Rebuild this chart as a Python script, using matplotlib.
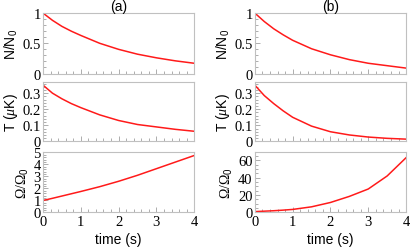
import numpy as np
import matplotlib.pyplot as plt
from matplotlib.ticker import MultipleLocator

# donnees
t = [0, 0.25, 0.5, 0.75, 1, 1.5, 2, 2.5, 3, 3.5, 4]

n_a = [1.0, 0.88, 0.78, 0.70, 0.63, 0.50, 0.40, 0.32, 0.26, 0.21, 0.17]
temp_a = [0.35, 0.30, 0.265, 0.235, 0.21, 0.165, 0.13, 0.105, 0.09, 0.075, 0.063]
omega_a = [1.0, 1.18, 1.37, 1.56, 1.75, 2.15, 2.6, 3.1, 3.65, 4.2, 4.75]

n_b = [1.0, 0.86, 0.74, 0.64, 0.55, 0.41, 0.31, 0.23, 0.17, 0.13, 0.09]
temp_b = [0.35, 0.285, 0.235, 0.19, 0.15, 0.095, 0.06, 0.04, 0.027, 0.019, 0.014]
omega_b = [1.0, 1.5, 2.0, 2.7, 3.5, 6.5, 11.5, 18.5, 27.0, 42.0, 63.0]

plt.rcParams['font.family'] = 'Liberation Serif'
plt.rcParams['mathtext.fontset'] = 'custom'
plt.rcParams['mathtext.rm'] = 'Liberation Sans'
plt.rcParams['mathtext.it'] = 'Liberation Serif:italic'

frame_col = '#c0c0c0'
sans = 'Liberation Sans'

fig = plt.figure(figsize=(4.11, 2.51), dpi=100)

lefts = [0.1046, 0.620]
width = 0.368
rows = [(0.703, 0.241), (0.4327, 0.237), (0.1495, 0.239)]

columns = [
    ('(a)', n_a, temp_a, omega_a, 5.0, 1, 0.2),
    ('(b)', n_b, temp_b, omega_b, 69.0, 20, 5),
]

for col, (title, n, temp, omega, omax, omaj, omin) in enumerate(columns):
    panels = [
        (n, 1.0, [0, 0.5, 1], ['0', '0.5', '1'], 0.1, r'N/N$_{\rm 0}$', sans),
        (temp, 0.37, [0, 0.1, 0.2, 0.3], ['0', '0.1', '0.2', '0.3'], 0.02,
         r'T ($\mu$K)', sans),
        (omega, omax, None, None, omin, r'Ω/Ω$_{\rm 0}$', 'Liberation Serif'),
    ]
    for row, (y, ymax, yt, ytl, ymin, lab, lab_font) in enumerate(panels):
        b, h = rows[row]
        ax = fig.add_axes([lefts[col], b, width, h])
        ax.plot(t, y, color='#ff1a1a', lw=1.1)
        ax.set_xlim(0, 4)
        ax.set_ylim(0, ymax)
        ax.xaxis.set_major_locator(MultipleLocator(1))
        ax.xaxis.set_minor_locator(MultipleLocator(0.2))
        if yt is None:
            ax.yaxis.set_major_locator(MultipleLocator(omaj))
        else:
            ax.set_yticks(yt, ytl)
        ax.yaxis.set_minor_locator(MultipleLocator(ymin))
        for s in ax.spines.values():
            s.set_color(frame_col)
            s.set_linewidth(0.8)
        ax.tick_params(which='both', direction='in', color='#a0a0a0', width=0.6,
                       labelsize=10.5, pad=1.5)
        ax.tick_params(which='major', length=3.5)
        ax.tick_params(which='minor', length=2)
        if row < 2:
            ax.tick_params(labelbottom=False)
        else:
            ax.set_xlabel('time (s)', fontfamily=sans, fontsize=10, labelpad=3)
        if row == 0:
            ax.set_title(title, fontfamily=sans, fontsize=10, pad=2)
        ax.set_ylabel(lab, fontfamily=lab_font, fontsize=10, labelpad=2)

fig.savefig('out.png', dpi=100)
